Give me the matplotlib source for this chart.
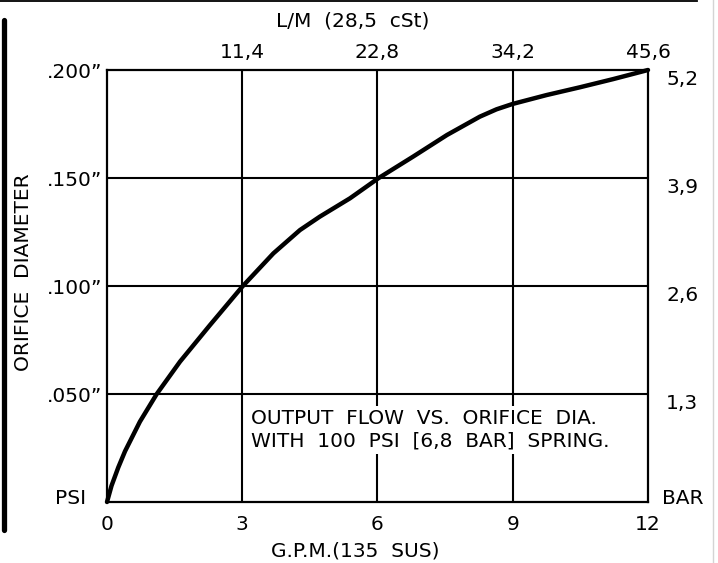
import numpy as np
import matplotlib
matplotlib.use("Agg")
import matplotlib.pyplot as plt
from matplotlib.lines import Line2D

plt.rcParams['font.family'] = ['DejaVu Sans']

# data
gpm = [0, 0.10, 0.25, 0.40, 0.73, 1.10, 1.62, 2.28, 3.0, 3.69, 4.28, 4.72, 5.39,
       6.02, 6.79, 7.54, 8.27, 8.64, 9.0, 9.75, 10.49, 11.23, 12]
dia = [0, 0.0075, 0.0160, 0.0235, 0.0372, 0.0499, 0.0650, 0.0818, 0.0997, 0.1151,
       0.1259, 0.1321, 0.1406, 0.1499, 0.1599, 0.1699, 0.1784, 0.1818, 0.1843,
       0.1884, 0.1920, 0.1958, 0.2000]

x_ticks = [0, 3, 6, 9, 12]
x_labels = ['0', '3', '6', '9', '12']
top_ticks = [3, 6, 9, 12]
top_labels = ['11,4', '22,8', '34,2', '45,6']
y_ticks = [0.05, 0.10, 0.15, 0.20]
y_labels = ['.050\u201d', '.100\u201d', '.150\u201d', '.200\u201d']
bar_labels = ['1,3', '2,6', '3,9', '5,2']

W, H = 718, 563
fs = 14.5

def fx(px):
    return px / W

def fy(py):
    return 1 - py / H

fig = plt.figure(figsize=(W / 100, H / 100), dpi=100)
ax = fig.add_axes([fx(107), fy(502), 541 / W, 432 / H])
ax.set_xlim(0, 12)
ax.set_ylim(0, 0.2)

for v in [3, 6, 9]:
    ax.axvline(v, color='black', lw=1.5, zorder=1)
for v in [0.05, 0.10, 0.15]:
    ax.axhline(v, color='black', lw=1.5, zorder=1)

ax.plot(gpm, dia, color='black', lw=3.2, solid_capstyle='round',
        solid_joinstyle='round', zorder=3, clip_on=False)

for s in ax.spines.values():
    s.set_linewidth(1.6)

ax.set_xticks(x_ticks)
ax.set_xticklabels(x_labels)
ax.set_yticks(y_ticks)
ax.set_yticklabels(y_labels)
ax.tick_params(axis='x', length=0, pad=9, labelsize=fs)
ax.tick_params(axis='y', length=0, pad=3.5, labelsize=fs)

axt = ax.twiny()
axt.set_xlim(0, 12)
axt.set_xticks(top_ticks)
axt.set_xticklabels(top_labels)
axt.tick_params(axis='x', length=0, pad=6, labelsize=fs)

axr = ax.twinx()
axr.set_ylim(0, 0.2)
axr.set_yticks(y_ticks)
axr.set_yticklabels(bar_labels)
axr.tick_params(axis='y', length=0, pad=13, labelsize=fs)
for t in axr.get_yticklabels():
    t.set_verticalalignment('top')
for a in (axt, axr):
    for s in a.spines.values():
        s.set_visible(False)

ax.text(3.19, 0.0333, 'OUTPUT  FLOW  VS.  ORIFICE  DIA.\nWITH  100  PSI  [6,8  BAR]  SPRING.',
        ha='left', va='center', fontsize=fs, linespacing=1.25, zorder=2,
        bbox=dict(boxstyle='square,pad=0.15', fc='white', ec='none'))

fig.text(fx(353), fy(21), 'L/M  (28,5  cSt)', ha='center', va='center', fontsize=fs)
fig.text(fx(355), fy(551), 'G.P.M.(135  SUS)', ha='center', va='center', fontsize=fs)
fig.text(fx(24), fy(272), 'ORIFICE  DIAMETER', ha='center', va='center',
         rotation=90, fontsize=fs)
fig.text(fx(86), fy(498), 'PSI', ha='right', va='center', fontsize=fs)
fig.text(fx(662), fy(499), 'BAR', ha='left', va='center', fontsize=fs)

# drawing frame bits
fig.add_artist(Line2D([fx(4), fx(4)], [fy(20), fy(530)], color='black', lw=3.8,
                      solid_capstyle='round'))
fig.add_artist(Line2D([fx(0), fx(697)], [fy(0.8), fy(0.8)], color='black', lw=1.3))
fig.add_artist(Line2D([fx(712.5), fx(712.5)], [0, 1], color='#d4d4d4', lw=1.0))

fig.savefig('out.png', dpi=100)
